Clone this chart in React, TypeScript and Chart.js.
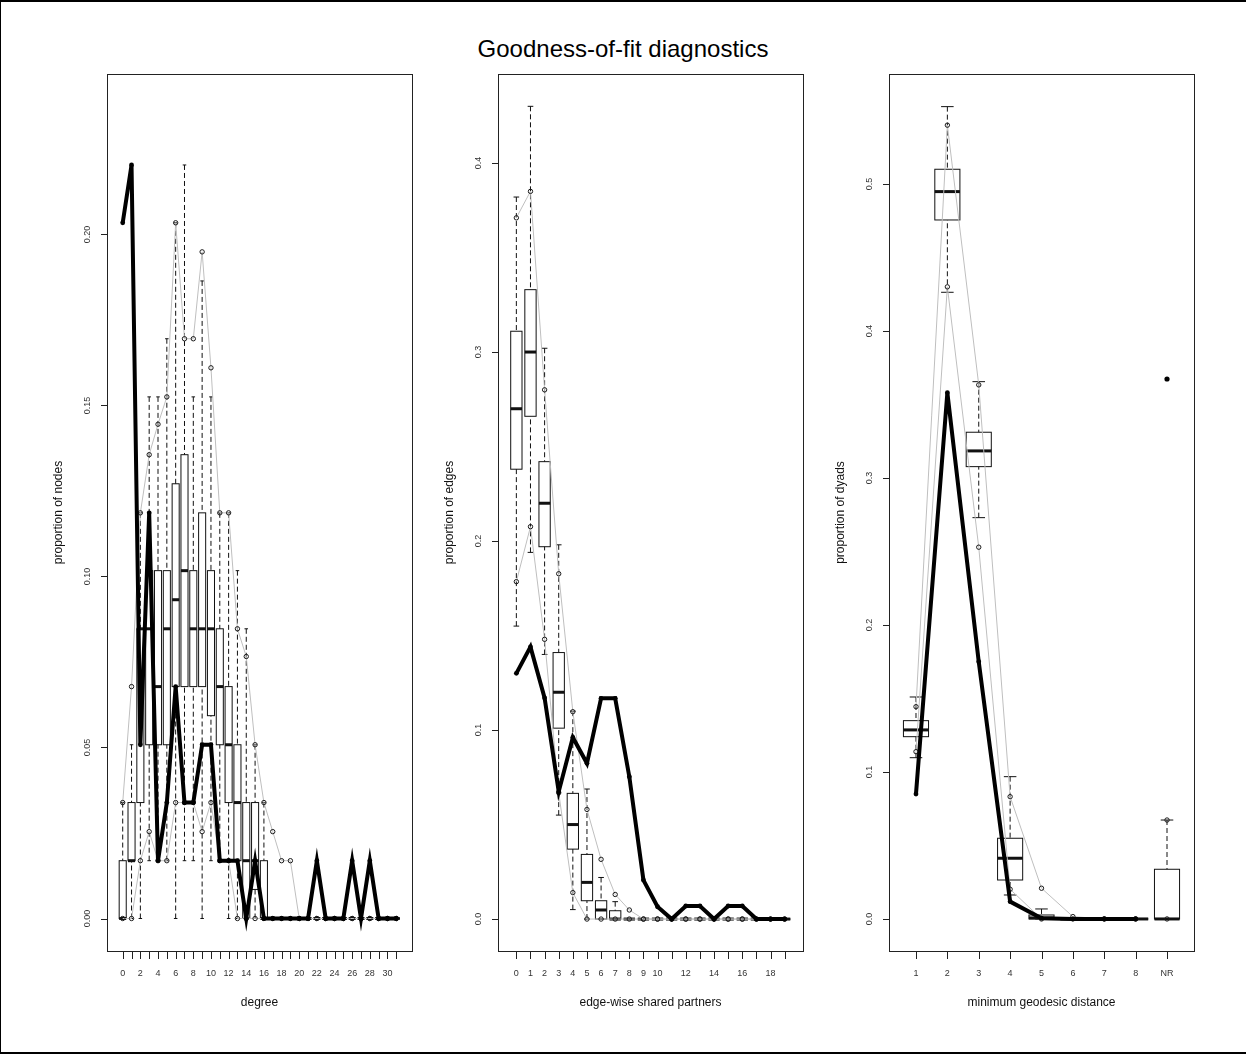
import React, { useEffect, useRef } from "react";
import { Chart, registerables } from "chart.js";

Chart.register(...registerables);

const FONT = '"Liberation Sans", Arial, Helvetica, sans-serif';

// ---------------- Panel 1: degree ----------------
const degreeCategories = [0, 1, 2, 3, 4, 5, 6, 7, 8, 9, 10, 11, 12, 13, 14, 15, 16, 17, 18, 19, 20, 21, 22, 23, 24, 25, 26, 27, 28, 29, 30, 31];
const degreeTickLabels = ["0", "", "2", "", "4", "", "6", "", "8", "", "10", "", "12", "", "14", "", "16", "", "18", "", "20", "", "22", "", "24", "", "26", "", "28", "", "30", ""];
const degreeObserved = [0.2034, 0.2203, 0.0508, 0.1186, 0.0169, 0.0339, 0.0678, 0.0339, 0.0339, 0.0508, 0.0508, 0.0169, 0.0169, 0.0169, 0, 0.0169, 0, 0, 0, 0, 0, 0, 0.0169, 0, 0, 0, 0.0169, 0, 0.0169, 0, 0, 0];
const degreeUpper = [0.0339, 0.0678, 0.1186, 0.1356, 0.1445, 0.1525, 0.2034, 0.1695, 0.1695, 0.1949, 0.161, 0.1186, 0.1186, 0.0847, 0.0766, 0.0508, 0.0339, 0.0254, 0.0169, 0.0169, 0, 0, 0, 0, 0, 0, 0, 0, 0, 0, 0, 0];
const degreeLower = [0, 0, 0.0169, 0.0254, 0.0169, 0.0169, 0.0339, 0.0339, 0.0339, 0.0254, 0.0339, 0.0169, 0.0169, 0, 0, 0, 0, 0, 0, 0, 0, 0, 0, 0, 0, 0, 0, 0, 0, 0, 0, 0];
const degreeWhiskerLow = [0, 0, 0, 0.0169, 0.0169, 0.0169, 0, 0.0169, 0.0169, 0, 0.0169, 0.0169, 0, 0, 0, 0, 0, 0, 0, 0, 0, 0, 0, 0, 0, 0, 0, 0, 0, 0, 0, 0];
const degreeQ1 = [0, 0.0169, 0.0339, 0.0508, 0.0508, 0.0508, 0.0678, 0.0678, 0.0678, 0.0678, 0.0593, 0.0508, 0.0339, 0.0169, 0, 0.0085, 0, 0, 0, 0, 0, 0, 0, 0, 0, 0, 0, 0, 0, 0, 0, 0];
const degreeMedian = [0, 0.0169, 0.0847, 0.0847, 0.0678, 0.0847, 0.0932, 0.1017, 0.0847, 0.0847, 0.0847, 0.0678, 0.0508, 0.0339, 0.0169, 0.0169, 0, 0, 0, 0, 0, 0, 0, 0, 0, 0, 0, 0, 0, 0, 0, 0];
const degreeQ3 = [0.0169, 0.0339, 0.0847, 0.1017, 0.1017, 0.1017, 0.1271, 0.1356, 0.1017, 0.1186, 0.1017, 0.0847, 0.0678, 0.0508, 0.0339, 0.0339, 0.0169, 0, 0, 0, 0, 0, 0, 0, 0, 0, 0, 0, 0, 0, 0, 0];
const degreeWhiskerHigh = [0.0339, 0.0508, 0.1186, 0.1525, 0.1525, 0.1695, 0.2034, 0.2203, 0.1525, 0.1864, 0.1525, 0.1186, 0.1186, 0.1017, 0.0847, 0.0508, 0.0339, 0, 0, 0, 0, 0, 0, 0, 0, 0, 0, 0, 0, 0, 0, 0];
const degreeYTicks = [0, 0.05, 0.1, 0.15, 0.2];
const degreeYTickLabels = ["0.00", "0.05", "0.10", "0.15", "0.20"];

// ---------------- Panel 2: edge-wise shared partners ----------------
const espCategories = [0, 1, 2, 3, 4, 5, 6, 7, 8, 9, 10, 11, 12, 13, 14, 15, 16, 17, 18, 19];
const espTickLabels = ["0", "1", "2", "3", "4", "5", "6", "7", "8", "9", "10", "", "12", "", "14", "", "16", "", "18", ""];
const espObserved = [0.13, 0.144, 0.117, 0.0674, 0.0961, 0.0824, 0.1168, 0.1168, 0.0753, 0.0206, 0.0065, 0, 0.0069, 0.0069, 0, 0.0069, 0.0069, 0, 0, 0];
const espUpper = [0.371, 0.385, 0.28, 0.1827, 0.1097, 0.058, 0.0316, 0.013, 0.0048, 0, 0, 0, 0, 0, 0, 0, 0, 0, 0, 0];
const espLower = [0.1785, 0.2076, 0.148, 0.0668, 0.014, 0, 0, 0, 0, 0, 0, 0, 0, 0, 0, 0, 0, 0, 0, 0];
const espWhiskerLow = [0.155, 0.194, 0.14, 0.055, 0.005, 0, 0, 0, 0, 0, 0, 0, 0, 0, 0, 0, 0, 0, 0, 0];
const espQ1 = [0.238, 0.266, 0.197, 0.101, 0.037, 0.0097, 0, 0, 0, 0, 0, 0, 0, 0, 0, 0, 0, 0, 0, 0];
const espMedian = [0.27, 0.3, 0.22, 0.12, 0.05, 0.0194, 0.0048, 0, 0, 0, 0, 0, 0, 0, 0, 0, 0, 0, 0, 0];
const espQ3 = [0.311, 0.333, 0.242, 0.141, 0.0665, 0.0342, 0.0097, 0.0044, 0, 0, 0, 0, 0, 0, 0, 0, 0, 0, 0, 0];
const espWhiskerHigh = [0.382, 0.43, 0.302, 0.198, 0.11, 0.0688, 0.022, 0.0092, 0, 0, 0, 0, 0, 0, 0, 0, 0, 0, 0, 0];
const espYTicks = [0, 0.1, 0.2, 0.3, 0.4];
const espYTickLabels = ["0.0", "0.1", "0.2", "0.3", "0.4"];

// ---------------- Panel 3: minimum geodesic distance ----------------
const distCategories = [1, 2, 3, 4, 5, 6, 7, 8, 9];
const distTickLabels = ["1", "2", "3", "4", "5", "6", "7", "8", "NR"];
const distObserved = [0.085, 0.358, 0.175, 0.0118, 0.0005, 0, 0, 0, 0.3673];
const distUpper = [0.1444, 0.54, 0.3633, 0.0832, 0.0209, 0.0016, 0, 0, 0.0673];
const distLower = [0.1138, 0.43, 0.2529, 0.0202, 0, 0, 0, 0, 0];
const distWhiskerLow = [0.1097, 0.4263, 0.273, 0.0163, 0, 0, 0, 0, 0];
const distQ1 = [0.124, 0.4755, 0.3077, 0.0265, 0, 0, 0, 0, 0];
const distMedian = [0.1286, 0.4948, 0.3184, 0.0413, 0.0007, 0, 0, 0, 0];
const distQ3 = [0.1349, 0.51, 0.3311, 0.0549, 0.0027, 0, 0, 0, 0.0338];
const distWhiskerHigh = [0.151, 0.5526, 0.3655, 0.0968, 0.0068, 0, 0, 0, 0.0673];
const distYTicks = [0, 0.1, 0.2, 0.3, 0.4, 0.5];
const distYTickLabels = ["0.0", "0.1", "0.2", "0.3", "0.4", "0.5"];

// ---------------- layout ----------------
const PAGE_W = 1246;
const PAGE_H = 1057;
const PLOT_TOP = 74;
const PLOT_BOTTOM = 951;
const PLOT_W = 305;
const PAD_L = 70;
const PAD_R = 15;
const CANVAS_W = PAD_L + PLOT_W + PAD_R;
const PANEL_LEFTS = [107, 498, 889];

interface PanelSpec {
  xTitle: string;
  yTitle: string;
  cats: number[];
  tickLabels: string[];
  observed: number[];
  upper: number[];
  lower: number[];
  wlo: number[];
  q1: number[];
  med: number[];
  q3: number[];
  whi: number[];
  yTicks: number[];
  yTickLabels: string[];
  xMin: number;
  xMax: number;
  yMin: number;
  yMax: number;
  lineCount: number;
}

const panels: PanelSpec[] = [
  {
    xTitle: "degree",
    yTitle: "proportion of nodes",
    cats: degreeCategories,
    tickLabels: degreeTickLabels,
    observed: degreeObserved,
    upper: degreeUpper,
    lower: degreeLower,
    wlo: degreeWhiskerLow,
    q1: degreeQ1,
    med: degreeMedian,
    q3: degreeQ3,
    whi: degreeWhiskerHigh,
    yTicks: degreeYTicks,
    yTickLabels: degreeYTickLabels,
    xMin: -1.78,
    xMax: 32.78,
    yMin: -0.0095,
    yMax: 0.2469,
    lineCount: 32,
  },
  {
    xTitle: "edge-wise shared partners",
    yTitle: "proportion of edges",
    cats: espCategories,
    tickLabels: espTickLabels,
    observed: espObserved,
    upper: espUpper,
    lower: espLower,
    wlo: espWhiskerLow,
    q1: espQ1,
    med: espMedian,
    q3: espQ3,
    whi: espWhiskerHigh,
    yTicks: espYTicks,
    yTickLabels: espYTickLabels,
    xMin: -1.3,
    xMax: 20.3,
    yMin: -0.0169,
    yMax: 0.4471,
    lineCount: 20,
  },
  {
    xTitle: "minimum geodesic distance",
    yTitle: "proportion of dyads",
    cats: distCategories,
    tickLabels: distTickLabels,
    observed: distObserved,
    upper: distUpper,
    lower: distLower,
    wlo: distWhiskerLow,
    q1: distQ1,
    med: distMedian,
    q3: distQ3,
    whi: distWhiskerHigh,
    yTicks: distYTicks,
    yTickLabels: distYTickLabels,
    xMin: 0.14,
    xMax: 9.86,
    yMin: -0.0218,
    yMax: 0.5748,
    lineCount: 8,
  },
];

const rStylePlugin = {
  id: "rStyle",
  beforeDatasetsDraw(chart: any, _args: any, opts: any) {
    const p: PanelSpec = opts.panel;
    if (!p) return;
    const ctx: CanvasRenderingContext2D = chart.ctx;
    const xs = chart.scales.x;
    const ys = chart.scales.y;
    const unit = Math.abs(xs.getPixelForValue(1) - xs.getPixelForValue(0));
    const half = 0.4 * unit;
    const staple = 0.2 * unit;
    const a = chart.chartArea;
    ctx.save();
    ctx.beginPath();
    ctx.rect(a.left, a.top, a.right - a.left, a.bottom - a.top);
    ctx.clip();
    ctx.strokeStyle = "#111";
    p.cats.forEach((c, i) => {
      const cx = xs.getPixelForValue(c);
      const yWl = ys.getPixelForValue(p.wlo[i]);
      const yQ1 = ys.getPixelForValue(p.q1[i]);
      const yMd = ys.getPixelForValue(p.med[i]);
      const yQ3 = ys.getPixelForValue(p.q3[i]);
      const yWh = ys.getPixelForValue(p.whi[i]);
      ctx.lineWidth = 1;
      ctx.setLineDash([5, 3]);
      ctx.beginPath();
      if (yWh < yQ3 - 0.5) {
        ctx.moveTo(cx, yWh);
        ctx.lineTo(cx, yQ3);
      }
      if (yWl > yQ1 + 0.5) {
        ctx.moveTo(cx, yWl);
        ctx.lineTo(cx, yQ1);
      }
      ctx.stroke();
      ctx.setLineDash([]);
      ctx.beginPath();
      ctx.moveTo(cx - staple, yWh);
      ctx.lineTo(cx + staple, yWh);
      ctx.moveTo(cx - staple, yWl);
      ctx.lineTo(cx + staple, yWl);
      ctx.stroke();
      ctx.strokeRect(cx - half, yQ3, 2 * half, yQ1 - yQ3);
      ctx.lineWidth = 3;
      ctx.beginPath();
      ctx.moveTo(cx - half, yMd);
      ctx.lineTo(cx + half, yMd);
      ctx.stroke();
    });
    ctx.restore();
  },
  afterDraw(chart: any, _args: any, opts: any) {
    const p: PanelSpec = opts.panel;
    if (!p) return;
    const ctx: CanvasRenderingContext2D = chart.ctx;
    const xs = chart.scales.x;
    const ys = chart.scales.y;
    const { left, right, top, bottom } = chart.chartArea;
    ctx.save();
    ctx.strokeStyle = "#222";
    ctx.lineWidth = 1;
    ctx.strokeRect(left + 0.5, top + 0.5, right - left, bottom - top);
    ctx.beginPath();
    p.cats.forEach((c) => {
      const px = Math.round(xs.getPixelForValue(c)) + 0.5;
      ctx.moveTo(px, bottom + 1);
      ctx.lineTo(px, bottom + 8);
    });
    p.yTicks.forEach((v) => {
      const py = Math.round(ys.getPixelForValue(v)) + 0.5;
      ctx.moveTo(left - 6, py);
      ctx.lineTo(left + 0.5, py);
    });
    ctx.stroke();
    ctx.fillStyle = "#333";
    ctx.font = `9px ${FONT}`;
    ctx.textAlign = "center";
    ctx.textBaseline = "middle";
    p.cats.forEach((c, i) => {
      const lab = p.tickLabels[i];
      if (lab) ctx.fillText(lab, xs.getPixelForValue(c), 974);
    });
    p.yTicks.forEach((v, i) => {
      ctx.save();
      ctx.translate(left - 19, ys.getPixelForValue(v));
      ctx.rotate(-Math.PI / 2);
      ctx.fillText(p.yTickLabels[i], 0, 0);
      ctx.restore();
    });
    ctx.fillStyle = "#111";
    ctx.font = `12px ${FONT}`;
    ctx.textBaseline = "alphabetic";
    ctx.fillText(p.xTitle, (left + right) / 2, 1006);
    ctx.save();
    ctx.translate(left - 45, (top + bottom) / 2);
    ctx.rotate(-Math.PI / 2);
    ctx.fillText(p.yTitle, 0, 0);
    ctx.restore();
    ctx.restore();
  },
};

const circleStyle = {
  pointRadius: 2.2,
  pointBorderWidth: 1,
  pointBorderColor: "#1a1a1a",
  pointBackgroundColor: "rgba(0,0,0,0)",
};

function PanelChart({ panel, boxLeft }: { panel: PanelSpec; boxLeft: number }) {
  const ref = useRef<HTMLCanvasElement | null>(null);
  useEffect(() => {
    const canvas = ref.current;
    if (!canvas) return;
    const n = panel.lineCount;
    const pts = (vals: number[]) => panel.cats.slice(0, n).map((c, i) => ({ x: c, y: vals[i] }));
    const extra = panel.cats.slice(n).map((c, j) => ({ idx: n + j, x: c }));
    const datasets: any[] = [
      {
        label: "observed",
        data: pts(panel.observed),
        borderColor: "#000",
        backgroundColor: "#000",
        borderWidth: 4,
        pointRadius: 2.4,
        pointBorderWidth: 0,
        pointBackgroundColor: "#000",
        fill: false,
        tension: 0,
      },
      {
        label: "upper",
        data: pts(panel.upper),
        borderColor: "#BFBFBF",
        borderWidth: 1,
        fill: false,
        tension: 0,
        ...circleStyle,
      },
      {
        label: "lower",
        data: pts(panel.lower),
        borderColor: "#BFBFBF",
        borderWidth: 1,
        fill: false,
        tension: 0,
        ...circleStyle,
      },
    ];
    if (extra.length) {
      datasets.unshift({
        label: "observed NR",
        data: extra.map((e) => ({ x: e.x, y: panel.observed[e.idx] })),
        showLine: false,
        pointRadius: 2.6,
        pointBorderWidth: 0,
        pointBackgroundColor: "#000",
      });
      datasets.push({
        label: "bounds NR",
        data: extra.flatMap((e) => [
          { x: e.x, y: panel.upper[e.idx] },
          { x: e.x, y: panel.lower[e.idx] },
        ]),
        showLine: false,
        ...circleStyle,
      });
    }
    const chart = new Chart(canvas, {
      type: "line",
      data: { datasets },
      options: {
        responsive: false,
        animation: false,
        devicePixelRatio: 1,
        events: [],
        layout: {
          padding: { left: PAD_L, right: PAD_R, top: PLOT_TOP, bottom: PAGE_H - PLOT_BOTTOM },
        },
        scales: {
          x: { type: "linear", display: false, min: panel.xMin, max: panel.xMax },
          y: { type: "linear", display: false, min: panel.yMin, max: panel.yMax },
        },
        plugins: {
          legend: { display: false },
          tooltip: { enabled: false },
          rStyle: { panel },
        } as any,
      },
      plugins: [rStylePlugin],
    } as any);
    return () => chart.destroy();
  }, [panel]);
  return (
    <canvas
      ref={ref}
      width={CANVAS_W}
      height={PAGE_H}
      style={{ position: "absolute", left: boxLeft - PAD_L, top: 0, width: CANVAS_W, height: PAGE_H }}
    />
  );
}

export default function App() {
  return (
    <div
      style={{
        position: "absolute",
        left: 0,
        top: 0,
        width: PAGE_W,
        height: PAGE_H,
        background: "#fff",
        overflow: "hidden",
        fontFamily: FONT,
      }}
    >
      <div style={{ position: "absolute", left: 0, top: 0, width: PAGE_W, height: 2, background: "#000" }} />
      <div style={{ position: "absolute", left: 0, top: 0, width: 1, height: 1054, background: "#000" }} />
      <div style={{ position: "absolute", left: 0, top: 1052, width: PAGE_W, height: 2, background: "#000" }} />
      <div
        style={{
          position: "absolute",
          left: 0,
          top: 37,
          width: PAGE_W,
          textAlign: "center",
          fontSize: 24,
          lineHeight: "24px",
          color: "#000",
          fontFamily: FONT,
        }}
      >
        Goodness-of-fit diagnostics
      </div>
      {panels.map((p, i) => (
        <PanelChart key={i} panel={p} boxLeft={PANEL_LEFTS[i]} />
      ))}
    </div>
  );
}
